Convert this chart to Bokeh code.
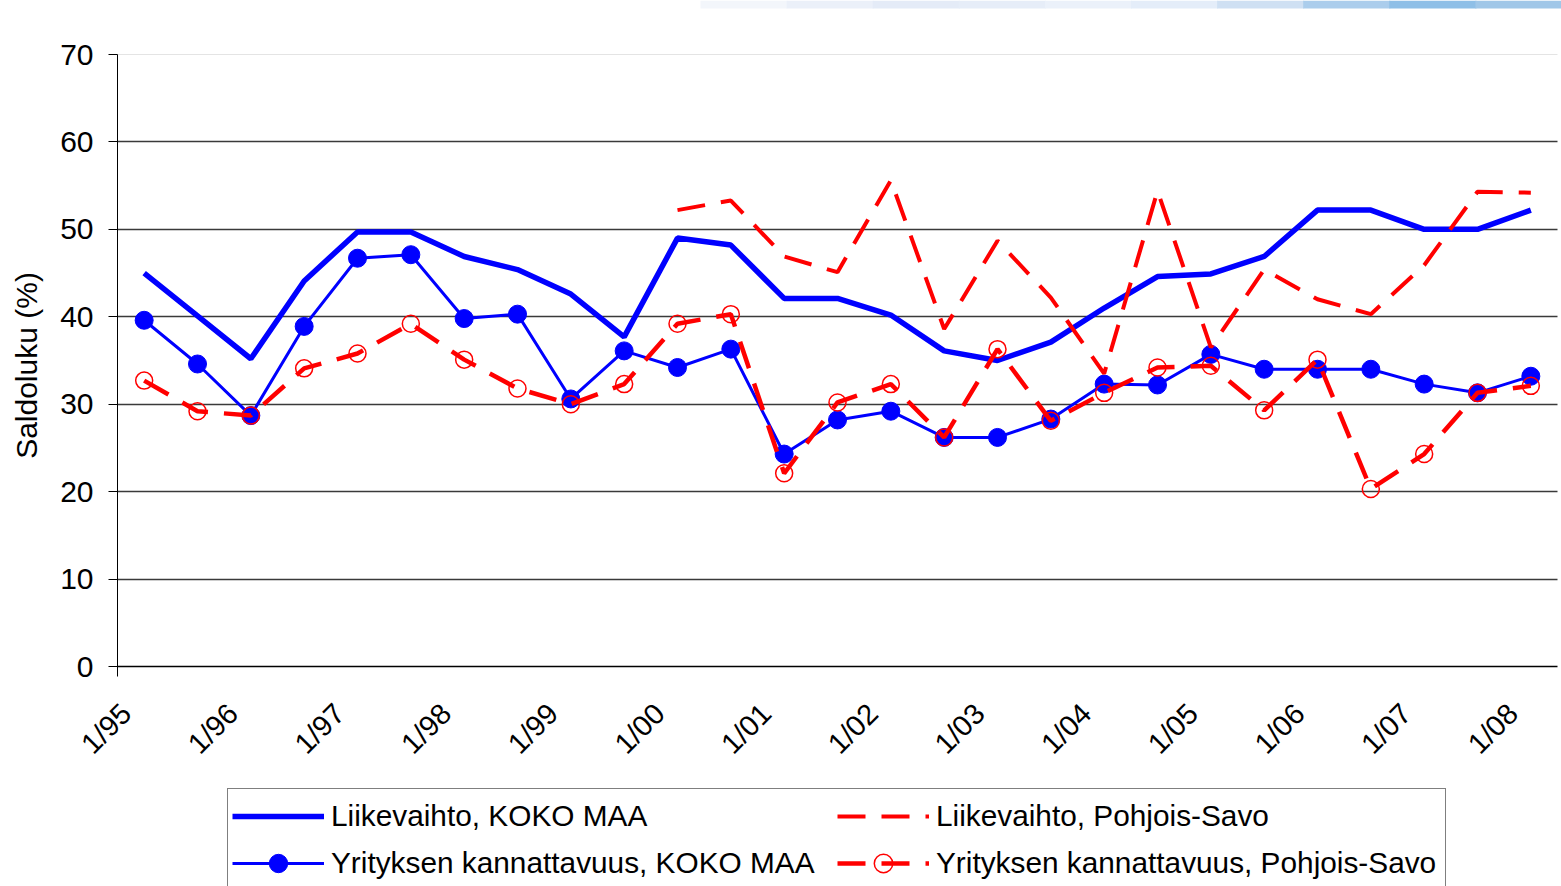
import math
from bokeh.plotting import figure
from bokeh.models import Range1d, Legend, LegendItem, FixedTicker, Grid, BoxAnnotation
from bokeh.embed import file_html
from bokeh.resources import INLINE

# Half-year categories (only the "1/yy" ones are labelled on the axis)
categories = ["1/95", "2/95", "1/96", "2/96", "1/97", "2/97", "1/98", "2/98",
              "1/99", "2/99", "1/00", "2/00", "1/01", "2/01", "1/02", "2/02",
              "1/03", "2/03", "1/04", "2/04", "1/05", "2/05", "1/06", "2/06",
              "1/07", "2/07", "1/08"]

liikevaihto_koko = [45.0, 40.1, 35.2, 44.1, 49.7, 49.7, 46.9, 45.4, 42.6, 37.7,
                    49.0, 48.2, 42.1, 42.1, 40.2, 36.1, 35.0, 37.1, 41.0, 44.6,
                    44.9, 46.9, 52.2, 52.2, 50.0, 50.0, 52.2]
kannattavuus_koko = [39.6, 34.6, 28.7, 38.9, 46.7, 47.1, 39.8, 40.3, 30.6, 36.1,
                     34.2, 36.3, 24.3, 28.2, 29.2, 26.2, 26.2, 28.3, 32.3, 32.2,
                     35.7, 34.0, 34.0, 34.0, 32.3, 31.3, 33.2]
liikevaihto_ps_start = 10  # series starts at "1/00"
liikevaihto_ps = [52.2, 53.3, 46.9, 45.1, 55.6, 38.6, 48.7, 42.2, 33.5, 54.4,
                  36.5, 45.4, 42.0, 40.3, 45.9, 54.3, 54.2]
kannattavuus_ps = [32.7, 29.2, 28.7, 34.1, 35.8, 39.2, 35.1, 31.8, 30.0, 32.3,
                   39.2, 40.3, 22.1, 30.2, 32.3, 26.2, 36.3, 28.1, 31.3, 34.2,
                   34.4, 29.3, 35.1, 20.3, 24.3, 31.3, 32.1]

y_ticks = [0, 10, 20, 30, 40, 50, 60, 70]
grid_ticks = [10, 20, 30, 40, 50, 60]

# ---- layout (screen pixels) ----
W, H = 1561, 886
PLOT_L, PLOT_R, PLOT_T, PLOT_B = 117, 1557, 54, 666
Y_MIN, Y_MAX = 0, 70
N = len(categories)
px_x = (PLOT_R - PLOT_L) / N
px_y = (PLOT_B - PLOT_T) / (Y_MAX - Y_MIN)
x_start = -0.5 - PLOT_L / px_x
x_end = N - 0.5 + (W - PLOT_R) / px_x
y_top = Y_MAX + PLOT_T / px_y
y_bottom = Y_MIN - (H - PLOT_B) / px_y
LABEL_SHIFT = -18 / px_x  # rotated labels end slightly left of the category

x_idx = list(range(N))
x_ps = x_idx[liikevaihto_ps_start:]
label_pos = [i + LABEL_SHIFT for i, c in enumerate(categories) if c.startswith("1/")]
label_txt = [c for c in categories if c.startswith("1/")]
x_label_map = dict(zip(label_pos, label_txt))

FONT = "Liberation Sans"
BLUE = "#0000FF"
RED = "#FF0000"
GRID_COLOR = "#3a3a3a"

p = figure(x_range=Range1d(x_start, x_end), y_range=Range1d(y_bottom, y_top),
           width=W, height=H, output_backend="svg", toolbar_location=None,
           min_border_left=0, min_border_top=0, min_border_right=0,
           min_border_bottom=0, outline_line_color=None)

# decorative band at the very top (slide header gradient)
band_cols = ["#f3f6fb", "#ebf0f9", "#e4ebf7", "#e6edf8", "#ebf1fa",
             "#e4edf9", "#cfe0f3", "#abcdec", "#8ebfe7", "#a0c7e8"]
band_x0, band_x1 = 700, W
step = (band_x1 - band_x0) / len(band_cols)
for k, col in enumerate(band_cols):
    p.add_layout(BoxAnnotation(
        left=x_start + (band_x0 + k * step) / px_x,
        right=x_start + (band_x0 + (k + 1) * step + 1) / px_x,
        bottom=y_top - 8 / px_y, top=y_top,
        fill_color=col, fill_alpha=1, line_color=None, level="underlay"))

# grid, limited to the category area
p.xgrid.grid_line_color = None
p.ygrid.ticker = FixedTicker(ticks=grid_ticks)
p.ygrid.grid_line_color = GRID_COLOR
p.ygrid.grid_line_width = 1.3
top_grid = Grid(dimension=1, ticker=FixedTicker(ticks=[Y_MAX]),
                grid_line_color="#e4e4e4", grid_line_width=1)
p.add_layout(top_grid)
try:
    p.ygrid.cross_bounds = (-0.5, N - 0.5)
    top_grid.cross_bounds = (-0.5, N - 0.5)
except AttributeError:
    p.ygrid.grid_line_color = None
    top_grid.grid_line_color = None
    p.segment(x0=[-0.5] * len(grid_ticks), x1=[N - 0.5] * len(grid_ticks),
              y0=grid_ticks, y1=grid_ticks, line_color=GRID_COLOR, line_width=1.3)
    p.segment(x0=[-0.5], x1=[N - 0.5], y0=[Y_MAX], y1=[Y_MAX],
              line_color="#e4e4e4", line_width=1)

# series
r1 = p.line(x_idx, liikevaihto_koko, line_color=BLUE, line_width=5.5)
r2 = p.line(x_idx, kannattavuus_koko, line_color=BLUE, line_width=3)
r2m = p.scatter(x_idx, kannattavuus_koko, size=18, marker="circle",
                fill_color=BLUE, line_color=BLUE)
r3 = p.line(x_ps, liikevaihto_ps, line_color=RED, line_width=4, line_dash="28 16")
r4 = p.line(x_idx, kannattavuus_ps, line_color=RED, line_width=4.5, line_dash="28 16")
r4m = p.scatter(x_idx, kannattavuus_ps, size=17, marker="circle",
                fill_color=None, line_color=RED, line_width=1.5)

# y axis (drawn at the left edge of the category area)
ya = p.yaxis[0]
ya.fixed_location = -0.5
ya.ticker = FixedTicker(ticks=y_ticks)
ya.bounds = (-10 / px_y, Y_MAX)
ya.axis_label = "Saldoluku (%)"
ya.axis_label_text_font = FONT
ya.axis_label_text_font_size = "30px"
ya.axis_label_text_font_style = "normal"
ya.axis_label_text_color = "black"
ya.axis_label_standoff = 14
ya.major_label_text_font = FONT
ya.major_label_text_font_size = "30px"
ya.major_label_text_color = "black"
ya.major_label_standoff = 15
ya.major_tick_out = 9
ya.major_tick_in = 0
ya.minor_tick_line_color = None
ya.axis_line_color = "black"
ya.major_tick_line_color = "black"

# x axis (drawn at y = 0)
xa = p.xaxis[0]
xa.fixed_location = 0
xa.bounds = (-0.5, N - 0.5)
xa.ticker = FixedTicker(ticks=label_pos)
xa.major_label_overrides = x_label_map
xa.major_label_orientation = math.pi / 4
xa.major_label_text_font = FONT
xa.major_label_text_font_size = "29px"
xa.major_label_text_color = "black"
xa.major_label_standoff = 42
xa.major_tick_out = 0
xa.major_tick_in = 0
xa.major_tick_line_color = None
xa.minor_tick_line_color = None
xa.axis_line_color = "black"
xa.axis_line_width = 1.3

legend = Legend(items=[
    LegendItem(label="Liikevaihto, KOKO MAA", renderers=[r1]),
    LegendItem(label="Yrityksen kannattavuus, KOKO MAA", renderers=[r2, r2m]),
    LegendItem(label="Liikevaihto, Pohjois-Savo", renderers=[r3]),
    LegendItem(label="Yrityksen kannattavuus, Pohjois-Savo", renderers=[r4, r4m]),
], orientation="vertical", nrows=2, location=(227, -5),
    glyph_width=92, glyph_height=46, label_height=46, label_width=505,
    label_standoff=7, spacing=1, padding=4, margin=0,
    label_text_font=FONT, label_text_font_size="29.8px", label_text_color="black",
    border_line_color="black", border_line_width=1,
    background_fill_color="white", background_fill_alpha=1)
p.add_layout(legend, "center")

open("out.html", "w").write(file_html(p, INLINE))
